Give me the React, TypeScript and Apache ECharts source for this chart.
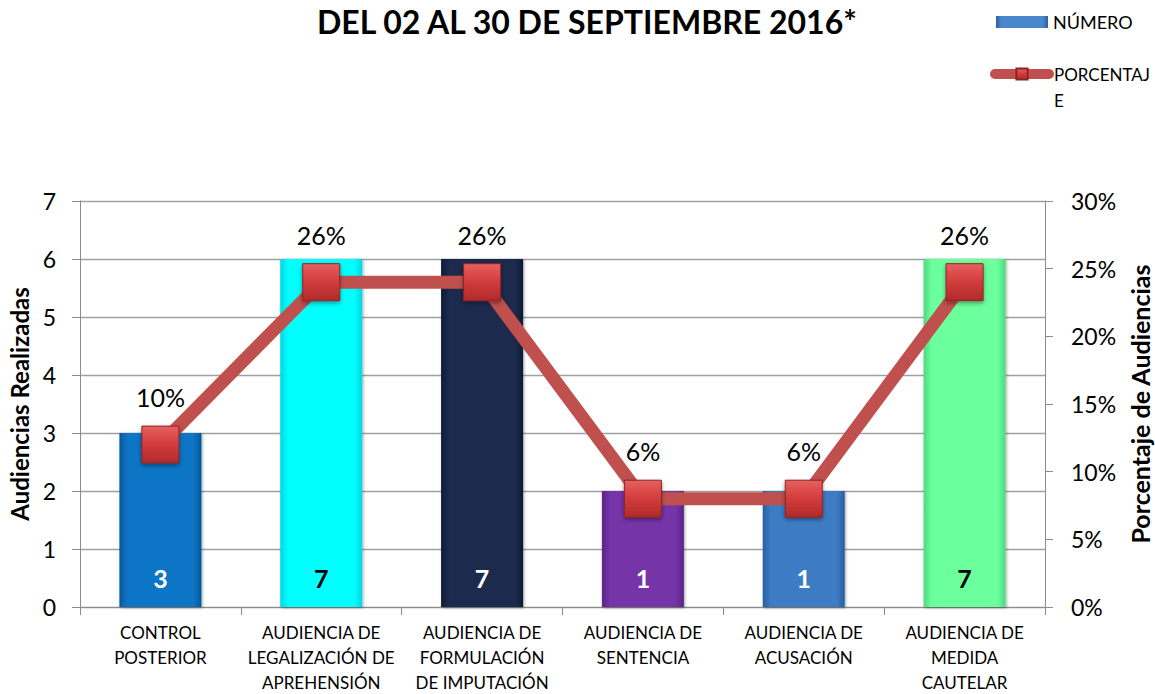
import React, { useEffect, useRef } from "react";
import * as echarts from "echarts";

const titleText = "DEL 02 AL 30 DE SEPTIEMBRE 2016*";
const categories = [
  "CONTROL\nPOSTERIOR",
  "AUDIENCIA DE\nLEGALIZACIÓN DE\nAPREHENSIÓN",
  "AUDIENCIA DE\nFORMULACIÓN\nDE IMPUTACIÓN",
  "AUDIENCIA DE\nSENTENCIA",
  "AUDIENCIA DE\nACUSACIÓN",
  "AUDIENCIA DE\nMEDIDA\nCAUTELAR",
];
const audienceCounts = [3, 6, 6, 2, 2, 6];
const countLabels = ["3", "7", "7", "1", "1", "7"];
const percentValues = [0.12, 0.24, 0.24, 0.08, 0.08, 0.24];
const percentLabels = ["10%", "26%", "26%", "6%", "6%", "26%"];
const seriesNames = ["NÚMERO", "PORCENTAJE"];

const barPalette = [
  { edge: "#05599C", base: "#0A74C6" },
  { edge: "#00D8E0", base: "#00FFFF" },
  { edge: "#0E1B33", base: "#1A2C4E" },
  { edge: "#5A2487", base: "#7434A8" },
  { edge: "#28609F", base: "#3C7CC4" },
  { edge: "#4FD97F", base: "#6CFF9E" },
];
const countLabelColors = ["#FFFFFF", "#000000", "#FFFFFF", "#FFFFFF", "#FFFFFF", "#000000"];

const FONT = "Lato";

function barGradient(edge: string, base: string) {
  return new echarts.graphic.LinearGradient(0, 0, 1, 0, [
    { offset: 0, color: edge },
    { offset: 0.1, color: base },
    { offset: 0.9, color: base },
    { offset: 1, color: edge },
  ]);
}

export default function App() {
  const ref = useRef<HTMLDivElement>(null);
  useEffect(() => {
    document.body.style.margin = "0";
    const chart = echarts.init(ref.current!, undefined, { renderer: "svg" });
    const option: any = {
      animation: false,
      backgroundColor: "#FFFFFF",
      textStyle: { fontFamily: FONT },
      title: {
        text: titleText,
        left: 312,
        top: 0,
        textStyle: { fontFamily: FONT, fontWeight: "bold", fontSize: 32, color: "#000" },
      },
      legend: [
        {
          data: [seriesNames[0]],
          left: 996,
          top: 13,
          padding: 0,
          itemWidth: 52,
          itemHeight: 12,
          itemGap: 5,
          icon: "rect",
          textStyle: { fontFamily: FONT, fontSize: 18, color: "#000" },
        },
        {
          data: [seriesNames[1]],
          left: 990,
          top: 35,
          padding: 0,
          itemWidth: 54,
          itemHeight: 14,
          formatter: () => "\nPORCENTAJ\nE",
          lineStyle: { width: 10, cap: "round" },
          textStyle: {
            fontFamily: FONT,
            fontSize: 17,
            lineHeight: 26,
            color: "#000",
          },
        },
      ],
      grid: { left: 80, right: 110, top: 201, bottom: 87, outerBoundsMode: "none" },
      xAxis: {
        type: "category",
        data: categories,
        axisLine: { lineStyle: { color: "#8C8C8C", width: 1 } },
        axisTick: { show: true, length: 8, lineStyle: { color: "#8C8C8C" } },
        axisLabel: {
          interval: 0,
          fontFamily: FONT,
          fontSize: 17,
          lineHeight: 25,
          color: "#000",
          margin: 13,
        },
      },
      yAxis: [
        {
          type: "value",
          min: 0,
          max: 7,
          interval: 1,
          name: "Audiencias Realizadas",
          nameLocation: "middle",
          nameGap: 42,
          nameRotate: 90,
          nameTextStyle: { fontFamily: FONT, fontWeight: "bold", fontSize: 24, color: "#000" },
          axisLine: { show: true, lineStyle: { color: "#8C8C8C" } },
          axisTick: { show: true, length: 8, lineStyle: { color: "#8C8C8C" } },
          axisLabel: { fontFamily: FONT, fontSize: 23, color: "#000", margin: 24 },
          splitLine: { show: true, lineStyle: { color: "#A0A0A0", width: 1.3 } },
        },
        {
          type: "value",
          min: 0,
          max: 0.3,
          interval: 0.05,
          position: "right",
          name: "Porcentaje de Audiencias",
          nameLocation: "middle",
          nameGap: 81,
          nameRotate: 90,
          nameTextStyle: { fontFamily: FONT, fontWeight: "bold", fontSize: 25, color: "#000" },
          axisLine: { show: true, lineStyle: { color: "#8C8C8C" } },
          axisTick: { show: true, length: 8, lineStyle: { color: "#8C8C8C" } },
          axisLabel: {
            fontFamily: FONT,
            fontSize: 23,
            color: "#000",
            margin: 26,
            formatter: (v: number) => Math.round(v * 100) + "%",
          },
          splitLine: { show: false },
        },
      ],
      series: [
        {
          name: seriesNames[0],
          type: "bar",
          yAxisIndex: 0,
          barWidth: 82,
          itemStyle: {
            color: barGradient("#2E5F99", "#4A86CC"),
            shadowBlur: 3,
            shadowColor: "rgba(0,0,0,0.35)",
            shadowOffsetX: 1,
            shadowOffsetY: 1,
          },
          label: {
            show: true,
            position: "insideBottom",
            distance: 17,
            fontFamily: FONT,
            fontWeight: "bold",
            fontSize: 25,
            formatter: (p: any) => countLabels[p.dataIndex],
          },
          data: audienceCounts.map((v, i) => ({
            value: v,
            itemStyle: { color: barGradient(barPalette[i].edge, barPalette[i].base) },
            label: { color: countLabelColors[i] },
          })),
        },
        {
          name: seriesNames[1],
          type: "line",
          yAxisIndex: 1,
          symbol: "rect",
          symbolSize: 37,
          lineStyle: { color: "#C0504D", width: 13 },
          itemStyle: {
            color: new echarts.graphic.LinearGradient(0, 0, 0, 1, [
              { offset: 0, color: "#E86060" },
              { offset: 0.5, color: "#D23B3B" },
              { offset: 1, color: "#B02A2A" },
            ]),
            borderColor: "#8E2424",
            borderWidth: 1,
            shadowBlur: 4,
            shadowColor: "rgba(0,0,0,0.4)",
            shadowOffsetY: 2,
          },
          label: {
            show: true,
            position: "top",
            distance: 16,
            fontFamily: FONT,
            fontSize: 25,
            color: "#000",
            formatter: (p: any) => percentLabels[p.dataIndex],
          },
          data: percentValues,
        },
      ],
    };
    chart.setOption(option);
    return () => chart.dispose();
  }, []);
  return <div ref={ref} style={{ width: 1155, height: 694 }} />;
}
